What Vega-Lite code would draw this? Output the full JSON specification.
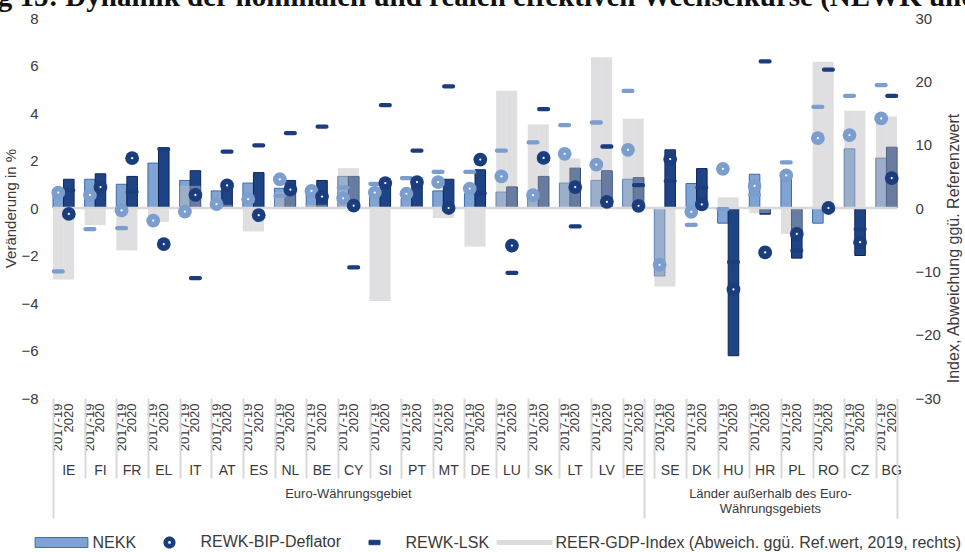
{
  "$schema": "https://vega.github.io/schema/vega-lite/v6.json",
  "width": 844,
  "height": 380,
  "autosize": {"type": "none"},
  "padding": {"left": 53, "top": 18, "right": 68, "bottom": 154},
  "background": "#ffffff",
  "title": {
    "text": "Abbildung 15: Dynamik der nominalen und realen effektiven Wechselkurse (NEWK und REWK)",
    "anchor": "start",
    "frame": "group",
    "font": "Liberation Serif",
    "fontSize": 29,
    "fontWeight": "bold",
    "color": "#111111",
    "baseline": "alphabetic",
    "offset": -24,
    "dx": -173
  },
  "config": {
    "view": {"stroke": null},
    "font": "Liberation Sans",
    "axis": {
      "labelFont": "Liberation Sans",
      "titleFont": "Liberation Sans",
      "labelColor": "#3a3a3a",
      "titleColor": "#3a3a3a",
      "titleFontWeight": "normal",
      "grid": false,
      "domain": false,
      "ticks": false,
      "labelOverlap": false
    },
    "legend": {
      "orient": "none",
      "legendX": -19.5,
      "legendY": 496,
      "direction": "horizontal",
      "columns": 4,
      "padding": 0,
      "symbolSize": 3025,
      "symbolOpacity": 1,
      "symbolStrokeWidth": 1,
      "labelFont": "Liberation Sans",
      "labelFontSize": 16,
      "labelColor": "#3a3a3a",
      "labelOffset": 3,
      "columnPadding": 5,
      "labelLimit": 600
    }
  },
  "datasets": {
    "main": [
      {"slot": "IE 2017-19", "country": "IE", "period": "2017-19", "nekk": 0.8, "bip": 0.65, "lsk": -2.67, "reer": -11.3},
      {"slot": "IE 2020", "country": "IE", "period": "2020", "nekk": 1.21, "bip": -0.25, "lsk": 0.74, "reer": -11.3},
      {"slot": "FI 2017-19", "country": "FI", "period": "2017-19", "nekk": 1.21, "bip": 0.55, "lsk": -0.89, "reer": -2.7},
      {"slot": "FI 2020", "country": "FI", "period": "2020", "nekk": 1.44, "bip": 0.88, "lsk": 0.9, "reer": -2.7},
      {"slot": "FR 2017-19", "country": "FR", "period": "2017-19", "nekk": 1.0, "bip": -0.1, "lsk": -0.85, "reer": -6.7},
      {"slot": "FR 2020", "country": "FR", "period": "2020", "nekk": 1.33, "bip": 2.1, "lsk": 0.68, "reer": -6.7},
      {"slot": "EL 2017-19", "country": "EL", "period": "2017-19", "nekk": 1.89, "bip": -0.53, "lsk": -0.53, "reer": -2.2},
      {"slot": "EL 2020", "country": "EL", "period": "2020", "nekk": 2.52, "bip": -1.52, "lsk": 2.48, "reer": -2.2},
      {"slot": "IT 2017-19", "country": "IT", "period": "2017-19", "nekk": 1.16, "bip": -0.15, "lsk": -0.15, "reer": 3.5},
      {"slot": "IT 2020", "country": "IT", "period": "2020", "nekk": 1.57, "bip": 0.55, "lsk": -2.95, "reer": 3.5},
      {"slot": "AT 2017-19", "country": "AT", "period": "2017-19", "nekk": 0.72, "bip": 0.16, "lsk": 0.16, "reer": 0.5},
      {"slot": "AT 2020", "country": "AT", "period": "2020", "nekk": 0.9, "bip": 0.95, "lsk": 2.37, "reer": 0.5},
      {"slot": "ES 2017-19", "country": "ES", "period": "2017-19", "nekk": 1.05, "bip": 0.37, "lsk": 0.37, "reer": -3.7},
      {"slot": "ES 2020", "country": "ES", "period": "2020", "nekk": 1.49, "bip": -0.3, "lsk": 2.64, "reer": -3.7},
      {"slot": "NL 2017-19", "country": "NL", "period": "2017-19", "nekk": 0.83, "bip": 1.21, "lsk": 0.51, "reer": 2.5},
      {"slot": "NL 2020", "country": "NL", "period": "2020", "nekk": 1.16, "bip": 0.77, "lsk": 3.15, "reer": 2.5},
      {"slot": "BE 2017-19", "country": "BE", "period": "2017-19", "nekk": 0.8, "bip": 0.72, "lsk": 0.72, "reer": 0.5},
      {"slot": "BE 2020", "country": "BE", "period": "2020", "nekk": 1.16, "bip": 0.48, "lsk": 3.43, "reer": 0.5},
      {"slot": "CY 2017-19", "country": "CY", "period": "2017-19", "nekk": 1.33, "bip": 0.41, "lsk": 0.86, "reer": 6.3},
      {"slot": "CY 2020", "country": "CY", "period": "2020", "nekk": 1.33, "bip": 0.1, "lsk": -2.5, "reer": 6.3},
      {"slot": "SI 2017-19", "country": "SI", "period": "2017-19", "nekk": 0.5, "bip": 0.65, "lsk": 1.02, "reer": -14.7},
      {"slot": "SI 2020", "country": "SI", "period": "2020", "nekk": 0.9, "bip": 1.05, "lsk": 4.33, "reer": -14.7},
      {"slot": "PT 2017-19", "country": "PT", "period": "2017-19", "nekk": 0.4, "bip": 0.6, "lsk": 1.26, "reer": 0.3},
      {"slot": "PT 2020", "country": "PT", "period": "2020", "nekk": 1.2, "bip": 1.09, "lsk": 2.42, "reer": 0.3},
      {"slot": "MT 2017-19", "country": "MT", "period": "2017-19", "nekk": 0.72, "bip": 1.09, "lsk": 1.52, "reer": -1.6},
      {"slot": "MT 2020", "country": "MT", "period": "2020", "nekk": 1.21, "bip": 0.0, "lsk": 5.12, "reer": -1.6},
      {"slot": "DE 2017-19", "country": "DE", "period": "2017-19", "nekk": 0.6, "bip": 0.82, "lsk": 1.52, "reer": -6.1},
      {"slot": "DE 2020", "country": "DE", "period": "2020", "nekk": 1.61, "bip": 2.04, "lsk": 0.62, "reer": -6.1},
      {"slot": "LU 2017-19", "country": "LU", "period": "2017-19", "nekk": 0.67, "bip": 1.33, "lsk": 2.42, "reer": 18.5},
      {"slot": "LU 2020", "country": "LU", "period": "2020", "nekk": 0.89, "bip": -1.58, "lsk": -2.73, "reer": 18.5},
      {"slot": "SK 2017-19", "country": "SK", "period": "2017-19", "nekk": 0.4, "bip": 0.54, "lsk": 2.76, "reer": 13.2},
      {"slot": "SK 2020", "country": "SK", "period": "2020", "nekk": 1.33, "bip": 2.11, "lsk": 4.16, "reer": 13.2},
      {"slot": "LT 2017-19", "country": "LT", "period": "2017-19", "nekk": 1.05, "bip": 2.28, "lsk": 3.49, "reer": 7.8},
      {"slot": "LT 2020", "country": "LT", "period": "2020", "nekk": 1.68, "bip": 0.88, "lsk": -0.77, "reer": 7.8},
      {"slot": "LV 2017-19", "country": "LV", "period": "2017-19", "nekk": 1.16, "bip": 1.83, "lsk": 3.6, "reer": 23.8},
      {"slot": "LV 2020", "country": "LV", "period": "2020", "nekk": 1.57, "bip": 0.26, "lsk": 2.59, "reer": 23.8},
      {"slot": "EE 2017-19", "country": "EE", "period": "2017-19", "nekk": 1.21, "bip": 2.45, "lsk": 4.93, "reer": 14.1},
      {"slot": "EE 2020", "country": "EE", "period": "2020", "nekk": 1.28, "bip": 0.09, "lsk": 0.96, "reer": 14.1},
      {"slot": "SE 2017-19", "country": "SE", "period": "2017-19", "nekk": -2.86, "bip": -2.39, "lsk": -2.39, "reer": -12.4},
      {"slot": "SE 2020", "country": "SE", "period": "2020", "nekk": 2.45, "bip": 2.06, "lsk": 1.13, "reer": -12.4},
      {"slot": "DK 2017-19", "country": "DK", "period": "2017-19", "nekk": 1.03, "bip": -0.16, "lsk": -0.71, "reer": 0.2},
      {"slot": "DK 2020", "country": "DK", "period": "2020", "nekk": 1.66, "bip": 0.15, "lsk": 0.86, "reer": 0.2},
      {"slot": "HU 2017-19", "country": "HU", "period": "2017-19", "nekk": -0.64, "bip": 1.65, "lsk": -0.05, "reer": 1.7},
      {"slot": "HU 2020", "country": "HU", "period": "2020", "nekk": -6.22, "bip": -3.43, "lsk": -2.28, "reer": 1.7},
      {"slot": "HR 2017-19", "country": "HR", "period": "2017-19", "nekk": 1.42, "bip": 0.93, "lsk": 0.55, "reer": -0.8},
      {"slot": "HR 2020", "country": "HR", "period": "2020", "nekk": -0.26, "bip": -1.87, "lsk": 6.17, "reer": -0.8},
      {"slot": "PL 2017-19", "country": "PL", "period": "2017-19", "nekk": 1.35, "bip": 1.37, "lsk": 1.92, "reer": -4.1},
      {"slot": "PL 2020", "country": "PL", "period": "2020", "nekk": -2.11, "bip": -1.09, "lsk": -1.79, "reer": -4.1},
      {"slot": "RO 2017-19", "country": "RO", "period": "2017-19", "nekk": -0.64, "bip": 2.94, "lsk": 4.26, "reer": 23.1},
      {"slot": "RO 2020", "country": "RO", "period": "2020", "nekk": 0.05, "bip": 0.0, "lsk": 5.83, "reer": 23.1},
      {"slot": "CZ 2017-19", "country": "CZ", "period": "2017-19", "nekk": 2.49, "bip": 3.07, "lsk": 4.72, "reer": 15.35},
      {"slot": "CZ 2020", "country": "CZ", "period": "2020", "nekk": -2.0, "bip": -1.44, "lsk": -0.89, "reer": 15.35},
      {"slot": "BG 2017-19", "country": "BG", "period": "2017-19", "nekk": 2.1, "bip": 3.77, "lsk": 5.17, "reer": 14.45},
      {"slot": "BG 2020", "country": "BG", "period": "2020", "nekk": 2.56, "bip": 1.26, "lsk": 4.72, "reer": 14.45}
    ],
    "legendrows": [
      {"series": "NEKK"},
      {"series": "REWK-BIP-Deflator"},
      {"series": "REWK-LSK"},
      {"series": "REER-GDP-Index (Abweich. ggü. Ref.wert, 2019, rechts)"}
    ]
  },
  "layer": [
    {
      "data": {"name": "main"},
      "mark": {"type": "bar", "strokeWidth": 1},
      "encoding": {
        "x": {
          "field": "slot", "type": "nominal",
          "scale": {"domain": ["IE 2017-19","IE 2020","IE gap","FI 2017-19","FI 2020","FI gap","FR 2017-19","FR 2020","FR gap","EL 2017-19","EL 2020","EL gap","IT 2017-19","IT 2020","IT gap","AT 2017-19","AT 2020","AT gap","ES 2017-19","ES 2020","ES gap","NL 2017-19","NL 2020","NL gap","BE 2017-19","BE 2020","BE gap","CY 2017-19","CY 2020","CY gap","SI 2017-19","SI 2020","SI gap","PT 2017-19","PT 2020","PT gap","MT 2017-19","MT 2020","MT gap","DE 2017-19","DE 2020","DE gap","LU 2017-19","LU 2020","LU gap","SK 2017-19","SK 2020","SK gap","LT 2017-19","LT 2020","LT gap","LV 2017-19","LV 2020","LV gap","EE 2017-19","EE 2020","-- gap","SE 2017-19","SE 2020","SE gap","DK 2017-19","DK 2020","DK gap","HU 2017-19","HU 2020","HU gap","HR 2017-19","HR 2020","HR gap","PL 2017-19","PL 2020","PL gap","RO 2017-19","RO 2020","RO gap","CZ 2017-19","CZ 2020","CZ gap","BG 2017-19","BG 2020"], "paddingInner": 0, "paddingOuter": 0},
          "axis": {
            "orient": "bottom", "title": null, "labelAngle": -90, "labelFontSize": 13, "labelPadding": 5,
            "labelExpr": "indexof(datum.value, 'gap') >= 0 ? '' : slice(datum.value, 3)"
          }
        },
        "y": {
          "field": "nekk", "type": "quantitative",
          "scale": {"domain": [-8, 8], "nice": false},
          "axis": {
            "orient": "left", "values": [-8, -6, -4, -2, 0, 2, 4, 6, 8], "labelFontSize": 15, "labelPadding": 15,
            "title": "Veränderung in %", "titleFontSize": 15, "titlePadding": 2
          }
        },
        "width": {"band": 0.64},
        "fill": {"condition": {"test": "datum.period === '2020'", "value": "#1f4486"}, "value": "#7fa3d3"},
        "stroke": {"condition": {"test": "datum.period === '2020'", "value": "#0f2654"}, "value": "#3a6cb0"}
      }
    },
    {
      "data": {"name": "main"},
      "mark": {"type": "bar", "fill": "#bcbcc0", "opacity": 0.47},
      "encoding": {
        "x": {
          "field": "slot", "type": "nominal",
          "scale": {"domain": ["IE 2017-19","IE 2020","IE gap","FI 2017-19","FI 2020","FI gap","FR 2017-19","FR 2020","FR gap","EL 2017-19","EL 2020","EL gap","IT 2017-19","IT 2020","IT gap","AT 2017-19","AT 2020","AT gap","ES 2017-19","ES 2020","ES gap","NL 2017-19","NL 2020","NL gap","BE 2017-19","BE 2020","BE gap","CY 2017-19","CY 2020","CY gap","SI 2017-19","SI 2020","SI gap","PT 2017-19","PT 2020","PT gap","MT 2017-19","MT 2020","MT gap","DE 2017-19","DE 2020","DE gap","LU 2017-19","LU 2020","LU gap","SK 2017-19","SK 2020","SK gap","LT 2017-19","LT 2020","LT gap","LV 2017-19","LV 2020","LV gap","EE 2017-19","EE 2020","-- gap","SE 2017-19","SE 2020","SE gap","DK 2017-19","DK 2020","DK gap","HU 2017-19","HU 2020","HU gap","HR 2017-19","HR 2020","HR gap","PL 2017-19","PL 2020","PL gap","RO 2017-19","RO 2020","RO gap","CZ 2017-19","CZ 2020","CZ gap","BG 2017-19","BG 2020"], "paddingInner": 0, "paddingOuter": 0},
          "axis": {
            "orient": "bottom", "title": null, "labels": false, "ticks": true, "tickBand": "extent",
            "tickSize": 80, "tickWidth": 2, "tickColor": "#d9d9d9",
            "tickOpacity": {"condition": {"test": "datum.index >= 0 && indexof(datum.value, 'gap') >= 0", "value": 1}, "value": 0}
          }
        },
        "y": {
          "field": "reer", "type": "quantitative",
          "scale": {"domain": [-30, 30], "nice": false},
          "axis": {
            "orient": "right", "values": [-30, -20, -10, 0, 10, 20, 30], "labelFontSize": 15, "labelPadding": 18,
            "title": "Index, Abweichung ggü. Referenzwert", "titleFontSize": 16, "titleAngle": 270,
            "titleBaseline": "top", "titlePadding": 5, "titleY": 230
          }
        },
        "width": {"band": 1}
      }
    },
    {
      "data": {"values": [{}]},
      "mark": {"type": "rule", "color": "#d9d9d9", "strokeWidth": 2.5},
      "encoding": {
        "y": {"datum": 0, "type": "quantitative", "scale": {"domain": [-8, 8], "nice": false}, "axis": null}
      }
    },
    {
      "data": {"name": "main"},
      "mark": {"type": "tick", "orient": "horizontal", "thickness": 4.3, "size": 13, "cornerRadius": 2, "opacity": 1},
      "encoding": {
        "x": {
          "field": "slot", "type": "nominal",
          "scale": {"domain": ["IE 2017-19","IE 2020","IE gap","FI 2017-19","FI 2020","FI gap","FR 2017-19","FR 2020","FR gap","EL 2017-19","EL 2020","EL gap","IT 2017-19","IT 2020","IT gap","AT 2017-19","AT 2020","AT gap","ES 2017-19","ES 2020","ES gap","NL 2017-19","NL 2020","NL gap","BE 2017-19","BE 2020","BE gap","CY 2017-19","CY 2020","CY gap","SI 2017-19","SI 2020","SI gap","PT 2017-19","PT 2020","PT gap","MT 2017-19","MT 2020","MT gap","DE 2017-19","DE 2020","DE gap","LU 2017-19","LU 2020","LU gap","SK 2017-19","SK 2020","SK gap","LT 2017-19","LT 2020","LT gap","LV 2017-19","LV 2020","LV gap","EE 2017-19","EE 2020","-- gap","SE 2017-19","SE 2020","SE gap","DK 2017-19","DK 2020","DK gap","HU 2017-19","HU 2020","HU gap","HR 2017-19","HR 2020","HR gap","PL 2017-19","PL 2020","PL gap","RO 2017-19","RO 2020","RO gap","CZ 2017-19","CZ 2020","CZ gap","BG 2017-19","BG 2020"], "paddingInner": 0, "paddingOuter": 0},
          "axis": {
            "orient": "bottom", "title": null, "labelAngle": 0, "labelFontSize": 14, "labelPadding": 72,
            "labelBaseline": "middle", "labelAlign": "center",
            "labelOffset": {"condition": {"test": "datum.value === 'EE 2020'", "value": -4}, "value": 0},
            "labelExpr": "slice(datum.value, 3) === '2020' ? slice(datum.value, 0, 2) : ''"
          }
        },
        "y": {"field": "lsk", "type": "quantitative", "scale": {"domain": [-8, 8], "nice": false}, "axis": null},
        "color": {"condition": {"test": "datum.period === '2020'", "value": "#1b3d7e"}, "value": "#7b9ecf"}
      }
    },
    {
      "data": {"name": "main"},
      "mark": {"type": "point", "shape": "circle", "filled": true, "size": 190, "opacity": 1},
      "encoding": {
        "x": {
          "field": "slot", "type": "nominal",
          "scale": {"domain": ["IE 2017-19","IE 2020","IE gap","FI 2017-19","FI 2020","FI gap","FR 2017-19","FR 2020","FR gap","EL 2017-19","EL 2020","EL gap","IT 2017-19","IT 2020","IT gap","AT 2017-19","AT 2020","AT gap","ES 2017-19","ES 2020","ES gap","NL 2017-19","NL 2020","NL gap","BE 2017-19","BE 2020","BE gap","CY 2017-19","CY 2020","CY gap","SI 2017-19","SI 2020","SI gap","PT 2017-19","PT 2020","PT gap","MT 2017-19","MT 2020","MT gap","DE 2017-19","DE 2020","DE gap","LU 2017-19","LU 2020","LU gap","SK 2017-19","SK 2020","SK gap","LT 2017-19","LT 2020","LT gap","LV 2017-19","LV 2020","LV gap","EE 2017-19","EE 2020","-- gap","SE 2017-19","SE 2020","SE gap","DK 2017-19","DK 2020","DK gap","HU 2017-19","HU 2020","HU gap","HR 2017-19","HR 2020","HR gap","PL 2017-19","PL 2020","PL gap","RO 2017-19","RO 2020","RO gap","CZ 2017-19","CZ 2020","CZ gap","BG 2017-19","BG 2020"], "paddingInner": 0, "paddingOuter": 0},
          "axis": {
            "orient": "bottom", "title": null, "labelAngle": 0, "labelFontSize": 13, "labelPadding": 89,
            "labelBaseline": "top", "labelAlign": "center", "labelOffset": 5.3, "labelLineHeight": 15.5, "labelLimit": 400,
            "labelExpr": "datum.value === 'CY 2017-19' ? 'Euro-Währungsgebiet' : (datum.value === 'HR 2020' ? ['Länder außerhalb des Euro-', 'Währungsgebiets'] : '')"
          }
        },
        "y": {"field": "bip", "type": "quantitative", "scale": {"domain": [-8, 8], "nice": false}, "axis": null},
        "fill": {"condition": {"test": "datum.period === '2020'", "value": "#1b3d7e"}, "value": "#7b9ecf"}
      }
    },
    {
      "data": {"name": "main"},
      "mark": {"type": "point", "shape": "circle", "filled": true, "size": 5, "fill": "#ffffff", "opacity": 1},
      "encoding": {
        "x": {
          "field": "slot", "type": "nominal",
          "scale": {"domain": ["IE 2017-19","IE 2020","IE gap","FI 2017-19","FI 2020","FI gap","FR 2017-19","FR 2020","FR gap","EL 2017-19","EL 2020","EL gap","IT 2017-19","IT 2020","IT gap","AT 2017-19","AT 2020","AT gap","ES 2017-19","ES 2020","ES gap","NL 2017-19","NL 2020","NL gap","BE 2017-19","BE 2020","BE gap","CY 2017-19","CY 2020","CY gap","SI 2017-19","SI 2020","SI gap","PT 2017-19","PT 2020","PT gap","MT 2017-19","MT 2020","MT gap","DE 2017-19","DE 2020","DE gap","LU 2017-19","LU 2020","LU gap","SK 2017-19","SK 2020","SK gap","LT 2017-19","LT 2020","LT gap","LV 2017-19","LV 2020","LV gap","EE 2017-19","EE 2020","-- gap","SE 2017-19","SE 2020","SE gap","DK 2017-19","DK 2020","DK gap","HU 2017-19","HU 2020","HU gap","HR 2017-19","HR 2020","HR gap","PL 2017-19","PL 2020","PL gap","RO 2017-19","RO 2020","RO gap","CZ 2017-19","CZ 2020","CZ gap","BG 2017-19","BG 2020"], "paddingInner": 0, "paddingOuter": 0},
          "axis": {
            "orient": "bottom", "title": null, "labels": false, "ticks": true, "tickBand": "extent",
            "tickSize": 120, "tickWidth": 2, "tickColor": "#d9d9d9",
            "tickOpacity": {"condition": {"test": "datum.index < 0 || datum.value === 'EE 2020' || datum.value === 'BG 2020'", "value": 1}, "value": 0}
          }
        },
        "y": {"field": "bip", "type": "quantitative", "scale": {"domain": [-8, 8], "nice": false}, "axis": null}
      }
    },
    {
      "data": {"name": "legendrows"},
      "mark": {"type": "point", "filled": true, "opacity": 0},
      "encoding": {
        "shape": {
          "field": "series", "type": "nominal",
          "scale": {
            "domain": ["NEKK", "REWK-BIP-Deflator", "REWK-LSK", "REER-GDP-Index (Abweich. ggü. Ref.wert, 2019, rechts)"],
            "range": [
              "M-0.96,-0.18H0.96V0.18H-0.96Z",
              "M-0.22,0A0.22,0.22,0,1,0,0.22,0A0.22,0.22,0,1,0,-0.22,0ZM-0.05,0A0.05,0.05,0,1,1,0.05,0A0.05,0.05,0,1,1,-0.05,0Z",
              "M-0.2,-0.08H0.2V0.08H-0.2Z",
              "M-1,-0.07H1V0.07H-1Z"
            ]
          },
          "legend": {"title": null}
        },
        "fill": {
          "field": "series", "type": "nominal",
          "scale": {
            "domain": ["NEKK", "REWK-BIP-Deflator", "REWK-LSK", "REER-GDP-Index (Abweich. ggü. Ref.wert, 2019, rechts)"],
            "range": ["#7fa3d3", "#1b3d7e", "#1b3d7e", "#dcdcdf"]
          },
          "legend": {"title": null}
        },
        "stroke": {
          "field": "series", "type": "nominal",
          "scale": {
            "domain": ["NEKK", "REWK-BIP-Deflator", "REWK-LSK", "REER-GDP-Index (Abweich. ggü. Ref.wert, 2019, rechts)"],
            "range": ["#3a6cb0", "transparent", "#1b3d7e", "#dcdcdf"]
          },
          "legend": {"title": null}
        }
      }
    }
  ],
  "resolve": {"scale": {"y": "independent"}, "axis": {"x": "independent", "y": "independent"}}
}
